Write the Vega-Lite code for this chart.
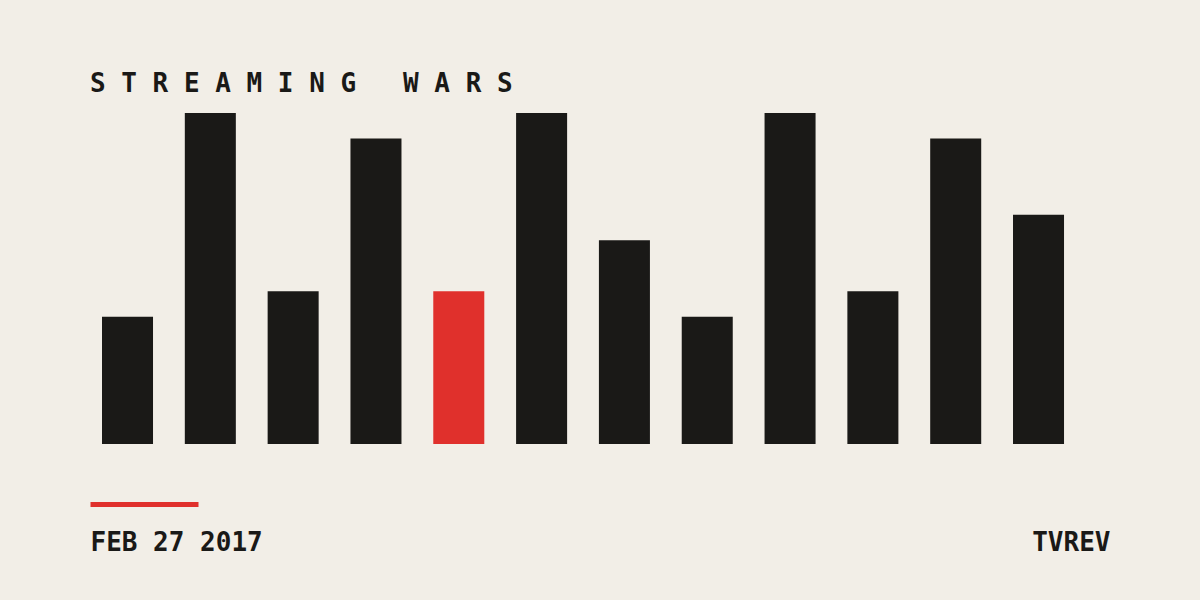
{
  "$schema": "https://vega.github.io/schema/vega-lite/v6.json",
  "width": 1020,
  "height": 331,
  "autosize": {"type": "none"},
  "padding": {"left": 90, "top": 113, "right": 90, "bottom": 156},
  "background": "#f2eee7",
  "title": {
    "text": "S\u00a0T\u00a0R\u00a0E\u00a0A\u00a0M\u00a0I\u00a0N\u00a0G\u00a0\u00a0\u00a0W\u00a0A\u00a0R\u00a0S",
    "anchor": "start",
    "frame": "group",
    "offset": -5,
    "font": "DejaVu Sans Mono",
    "fontSize": 26,
    "fontWeight": "bold",
    "color": "#1a1917",
    "baseline": "alphabetic"
  },
  "config": {"view": {"stroke": null}},
  "layer": [
    {
      "data": {
        "values": [
          {"slot": 1, "value": 5, "highlight": "no"},
          {"slot": 2, "value": 13, "highlight": "no"},
          {"slot": 3, "value": 6, "highlight": "no"},
          {"slot": 4, "value": 12, "highlight": "no"},
          {"slot": 5, "value": 6, "highlight": "yes"},
          {"slot": 6, "value": 13, "highlight": "no"},
          {"slot": 7, "value": 8, "highlight": "no"},
          {"slot": 8, "value": 5, "highlight": "no"},
          {"slot": 9, "value": 13, "highlight": "no"},
          {"slot": 10, "value": 6, "highlight": "no"},
          {"slot": 11, "value": 12, "highlight": "no"},
          {"slot": 12, "value": 9, "highlight": "no"}
        ]
      },
      "mark": {"type": "bar"},
      "encoding": {
        "x": {
          "field": "slot",
          "type": "ordinal",
          "scale": {"paddingInner": 0.384, "paddingOuter": 0.35, "align": 0.207},
          "axis": null
        },
        "y": {
          "field": "value",
          "type": "quantitative",
          "scale": {"domain": [0, 13], "nice": false},
          "axis": {
            "orient": "right",
            "title": "TVREV",
            "labels": false,
            "ticks": false,
            "domain": false,
            "grid": false,
            "titleAngle": 0,
            "titleAlign": "right",
            "titleBaseline": "alphabetic",
            "titleX": 0,
            "titleY": 437,
            "titleFont": "DejaVu Sans Mono",
            "titleFontSize": 26,
            "titleFontWeight": "bold",
            "titleColor": "#1a1917"
          }
        },
        "color": {
          "field": "highlight",
          "type": "nominal",
          "scale": {"domain": ["no", "yes"], "range": ["#1a1917", "#e0302c"]},
          "legend": null
        }
      }
    },
    {
      "data": {"values": []},
      "mark": {"type": "rule"},
      "encoding": {
        "x": {
          "field": "v",
          "type": "quantitative",
          "scale": {"domain": [0, 1], "range": [0, 108]},
          "axis": {
            "orient": "bottom",
            "offset": 60,
            "domain": true,
            "domainColor": "#e0302c",
            "domainWidth": 5,
            "domainCap": "butt",
            "ticks": false,
            "labels": false,
            "grid": false,
            "title": "FEB 27 2017",
            "titleFont": "DejaVu Sans Mono",
            "titleFontSize": 26,
            "titleFontWeight": "bold",
            "titleColor": "#1a1917",
            "titleAnchor": "start",
            "titleAlign": "left",
            "titleBaseline": "alphabetic",
            "titleX": 0,
            "titleY": 46
          }
        }
      }
    }
  ],
  "resolve": {"scale": {"x": "independent"}, "axis": {"x": "independent"}}
}
